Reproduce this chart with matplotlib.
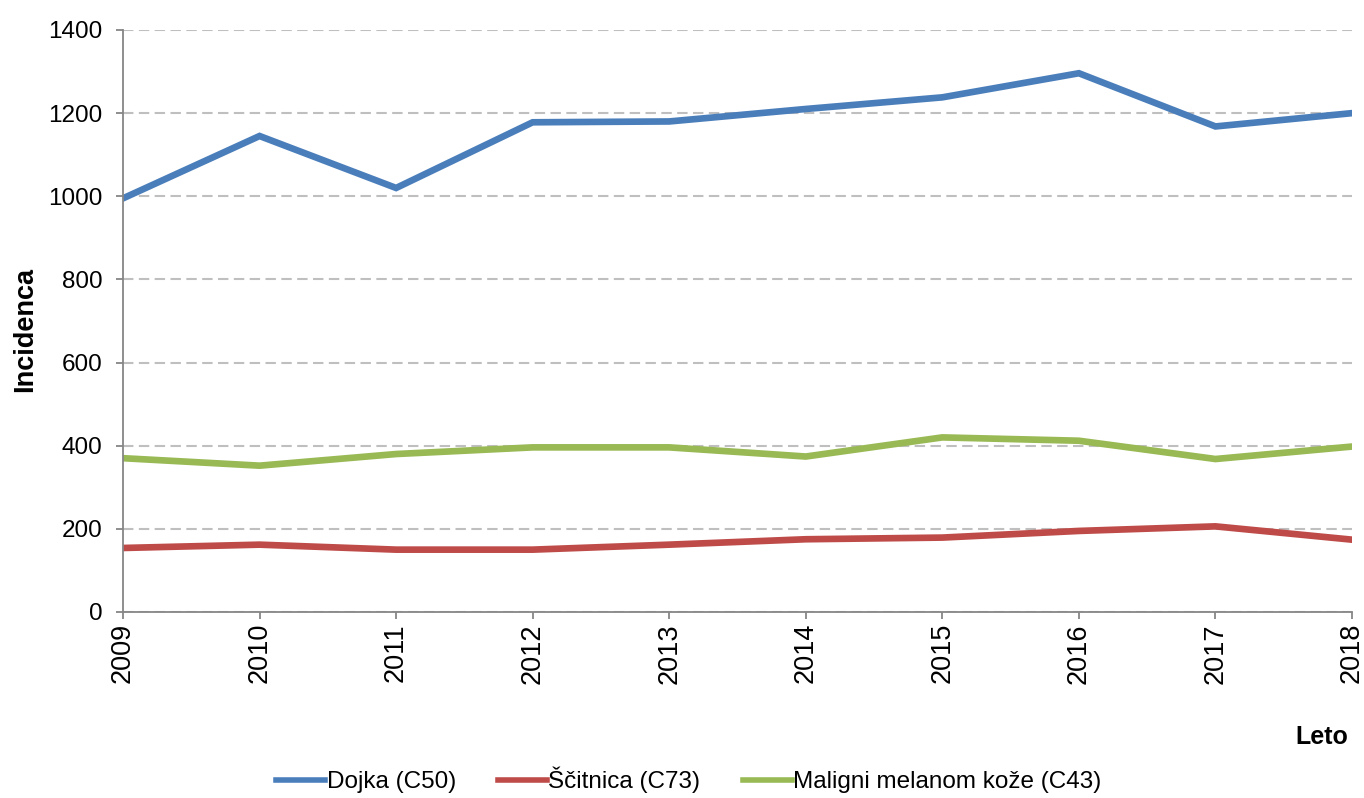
import matplotlib.pyplot as plt

# data
years = [2009, 2010, 2011, 2012, 2013, 2014, 2015, 2016, 2017, 2018]
dojka = [995, 1145, 1020, 1178, 1180, 1210, 1238, 1296, 1168, 1200]
scitnica = [154, 162, 150, 150, 162, 175, 179, 195, 206, 174]
melanom = [370, 352, 380, 396, 396, 374, 420, 412, 368, 398]

series_names = ['Dojka (C50)', 'Ščitnica (C73)', 'Maligni melanom kože (C43)']
series_colors = ['#4A7EBB', '#BE4B48', '#98B954']
yticks = [0, 200, 400, 600, 800, 1000, 1200, 1400]

plt.rcParams['font.family'] = ['Liberation Sans', 'DejaVu Sans']

fig = plt.figure(figsize=(13.64, 7.98), dpi=100, facecolor='white')
ax = fig.add_axes([123 / 1364, 1 - 612 / 798, (1352 - 123) / 1364, (612 - 30) / 798])

for vals, name, col in zip([dojka, scitnica, melanom], series_names, series_colors):
    ax.plot(years, vals, color=col, lw=4.8, label=name, solid_joinstyle='miter')

ax.set_xlim(2009, 2018)
ax.set_ylim(0, 1400)
ax.set_yticks(yticks)
ax.set_xticks(years)
ax.set_xticklabels([str(y) for y in years], rotation=90, fontsize=19.5)
ax.tick_params(axis='y', labelsize=17.5, length=5, width=1.3, color='#868686', pad=10)
ax.tick_params(axis='x', length=5, width=1.3, color='#868686', pad=3)

ax.grid(axis='y', color='#BFBFBF', linestyle=(0, (5, 2.6)), lw=1.5)
ax.set_axisbelow(True)
for side in ['top', 'right']:
    ax.spines[side].set_visible(False)
for side in ['left', 'bottom']:
    ax.spines[side].set_color('#868686')
    ax.spines[side].set_linewidth(1.3)

fig.text(25 / 1364, 1 - 330 / 798, 'Incidenca', rotation=90, ha='center', va='center',
         fontsize=19.5, fontweight='bold')
fig.text(1348 / 1364, 1 - 737 / 798, 'Leto', ha='right', va='center',
         fontsize=18, fontweight='bold')

leg = fig.legend(loc='center', bbox_to_anchor=(0.505, 1 - 780 / 798), ncol=3, frameon=False,
                 prop={'size': 17.5}, handlelength=2.0, handletextpad=0.06,
                 columnspacing=1.75)
for line in leg.get_lines():
    line.set_linewidth(4.0)

fig.savefig('out.png', dpi=100, facecolor='white')
